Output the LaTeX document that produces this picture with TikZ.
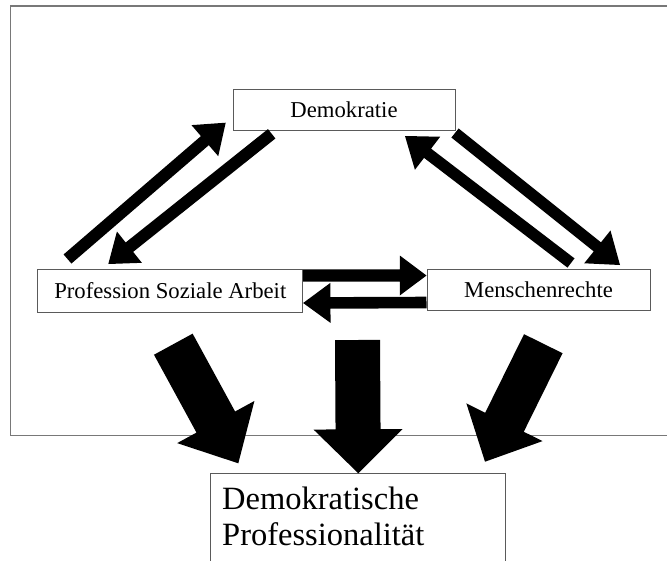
\documentclass[tikz,border=0pt]{standalone}
\usepackage{fontspec}
\setmainfont{Liberation Serif}
\usetikzlibrary{calc}
\definecolor{boxgray}{RGB}{90,90,90}
\definecolor{framegray}{RGB}{120,120,120}
\tikzset{
  lbl/.style={draw=boxgray, line width=1pt, fill=white, inner sep=0pt,
    font=\fontsize{22.7}{27}\selectfont},
  bigtxt/.style={inner sep=0pt, anchor=base west, font=\fontsize{32.5}{37}\selectfont},
  arrowfill/.style={fill=black},
  frameline/.style={draw=framegray, line width=1.5pt}
}
% #1 tail, #2 tip, #3 half shaft width, #4 half head width, #5 head length
\newcommand{\blockarr}[5]{%
  \coordinate (#1-base) at ($(#2)!#5!(#1)$);
  \fill[arrowfill] ($(#1)!#3!90:(#2)$) -- ($(#1-base)!#3!90:(#2)$)
    -- ($(#1-base)!#4!90:(#2)$) -- (#2) -- ($(#1-base)!#4!-90:(#2)$)
    -- ($(#1-base)!#3!-90:(#2)$) -- ($(#1)!#3!-90:(#2)$) -- cycle;
}
\begin{document}
\begin{tikzpicture}[x=1pt,y=-1pt]
\useasboundingbox (0,0) rectangle (667,560);
\clip (0,0) rectangle (667,560);
\fill[white] (0,0) rectangle (667,560);

% outer frame
\draw[frameline] (10.5,6) rectangle (680,435.5);

% boxes
\node[lbl, minimum width=222pt, minimum height=41.4pt] (demo) at (344,110) {Demokratie};
\node[lbl, minimum width=264.7pt, minimum height=43.4pt] (prof) at (170.3,291) {Profession Soziale Arbeit};
\node[lbl, minimum width=223pt, minimum height=40.7pt] (mensch) at (538.5,289.7) {Menschenrechte};
\node[draw=boxgray, line width=1pt, fill=white, minimum width=295pt, minimum height=100pt,
  anchor=north west, inner sep=0pt] (dp) at (210,473.3) {};
\node[bigtxt] (dp1) at (222,509) {Demokratische};
\node[bigtxt] (dp2) at (222,545.7) {Professionalität};

% arrow end points
\coordinate (a1s) at (67.5,259);   \coordinate (a1e) at (225.7,122.7);
\coordinate (a2s) at (271.7,133.8); \coordinate (a2e) at (108.3,264);
\coordinate (a3s) at (571,263);    \coordinate (a3e) at (405,136);
\coordinate (a4s) at (455,133);    \coordinate (a4e) at (620,265);
\coordinate (h1s) at (prof.east |- 0,275.5);  \coordinate (h1e) at (mensch.west |- 0,275.5);
\coordinate (h2s) at (mensch.west |- 0,302.5); \coordinate (h2e) at (prof.east |- 0,303);
\coordinate (b1s) at (173.3,344.2); \coordinate (b1e) at (238.3,463.3);
\coordinate (b2s) at (357.5,340);   \coordinate (b2e) at (358.3,473.3);
\coordinate (b3s) at (543.3,343.7); \coordinate (b3e) at (485,461.7);

% small arrows
\blockarr{a1s}{a1e}{6pt}{20.5pt}{27.5pt}
\blockarr{a2s}{a2e}{6pt}{20pt}{27pt}
\blockarr{a3s}{a3e}{5.8pt}{20.8pt}{28.4pt}
\blockarr{a4s}{a4e}{5.8pt}{21pt}{29pt}
\blockarr{h1s}{h1e}{6.2pt}{20pt}{26.7pt}
\blockarr{h2s}{h2e}{5.8pt}{20pt}{27.3pt}

% big arrows
\blockarr{b1s}{b1e}{22pt}{44pt}{47pt}
\blockarr{b2s}{b2e}{22.5pt}{44.5pt}{44pt}
\blockarr{b3s}{b3e}{21.5pt}{42.5pt}{44pt}
\end{tikzpicture}
\end{document}
